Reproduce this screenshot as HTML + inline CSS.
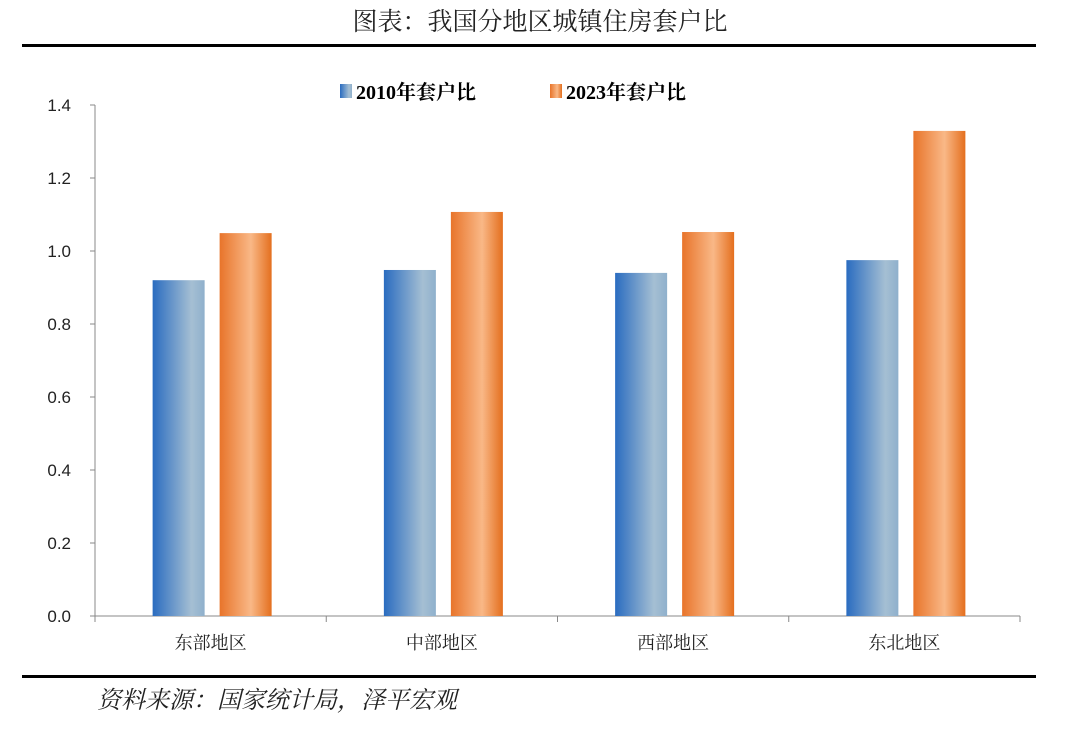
<!DOCTYPE html>
<html><head><meta charset="utf-8"><style>
body{margin:0;background:#fff;width:1080px;height:729px;overflow:hidden;font-family:"Liberation Serif","Noto Serif CJK SC",serif;}
</style></head><body>
<svg width="1080" height="729" xmlns="http://www.w3.org/2000/svg">
<defs>
<linearGradient id="gb" x1="0" x2="1" y1="0" y2="0"><stop offset="0" stop-color="#2a6cc0"/><stop offset="0.75" stop-color="#a5bfd3"/><stop offset="1" stop-color="#8fb0cc"/></linearGradient>
<linearGradient id="go" x1="0" x2="1" y1="0" y2="0"><stop offset="0" stop-color="#e8742a"/><stop offset="0.6" stop-color="#f9b887"/><stop offset="1" stop-color="#e46f1e"/></linearGradient>
</defs>
<text x="540" y="30" text-anchor="middle" font-size="25" fill="#222">图表：我国分地区城镇住房套户比</text>
<rect x="22" y="44" width="1014" height="3" fill="#000"/>
<g font-weight="bold" font-size="20">
<rect x="340" y="84" width="12" height="14" fill="url(#gb)"/>
<text x="356" y="99">2010年套户比</text>
<rect x="550" y="84" width="12" height="14" fill="url(#go)"/>
<text x="566" y="99">2023年套户比</text>
</g>
<g id="plot"></g>
<rect x="22" y="675" width="1014" height="3" fill="#000"/>
<text x="97" y="708" font-size="24" font-style="italic" fill="#222">资料来源：国家统计局，泽平宏观</text>
</svg>
<script>
const categories=["东部地区","中部地区","西部地区","东北地区"];
const series2010=[0.92,0.948,0.94,0.975];
const series2023=[1.049,1.107,1.052,1.329];
const yTicks=[0,0.2,0.4,0.6,0.8,1.0,1.2,1.4];
const ns="http://www.w3.org/2000/svg";
const g=document.getElementById('plot');
const x0=95,x1=1020,y0=616,yTop=105,yMax=1.4;
const y=v=>y0-(v/yMax)*(y0-yTop);
const bw=(x1-x0)/categories.length;
function mk(t,a){const e=document.createElementNS(ns,t);for(const k in a)e.setAttribute(k,a[k]);g.appendChild(e);return e;}
let ax=mk('line',{x1:x0,x2:x0,y1:yTop,y2:y0,stroke:'#888'});

let bx=mk('line',{x1:x0,x2:x1,y1:y0,y2:y0,stroke:'#888'});

yTicks.forEach(v=>{
 const tk=mk('line',{x1:x0-5,x2:x0,y1:y(v),y2:y(v),stroke:'#888'});
 
 const t=mk('text',{x:x0-24,y:y(v)+6,'text-anchor':'end','font-size':17,'font-family':'Liberation Sans, sans-serif',fill:'#222'});
 t.textContent=v.toFixed(1);
 
});
for(let i=0;i<=categories.length;i++){
 const tk=mk('line',{x1:x0+i*bw,x2:x0+i*bw,y1:y0,y2:y0+6,stroke:'#888'});
 
}
categories.forEach((c,i)=>{
 const cx=x0+bw*(i+0.5);
 const b1=mk('rect',{x:cx-58,y:y(series2010[i]),width:52,height:y0-y(series2010[i]),fill:'url(#gb)'});
 
 const b2=mk('rect',{x:cx+9,y:y(series2023[i]),width:52,height:y0-y(series2023[i]),fill:'url(#go)'});
 
 const t=mk('text',{x:cx,y:649,'text-anchor':'middle','font-size':18,fill:'#222'});
 t.textContent=c;
 
});
</script>
</body></html>
